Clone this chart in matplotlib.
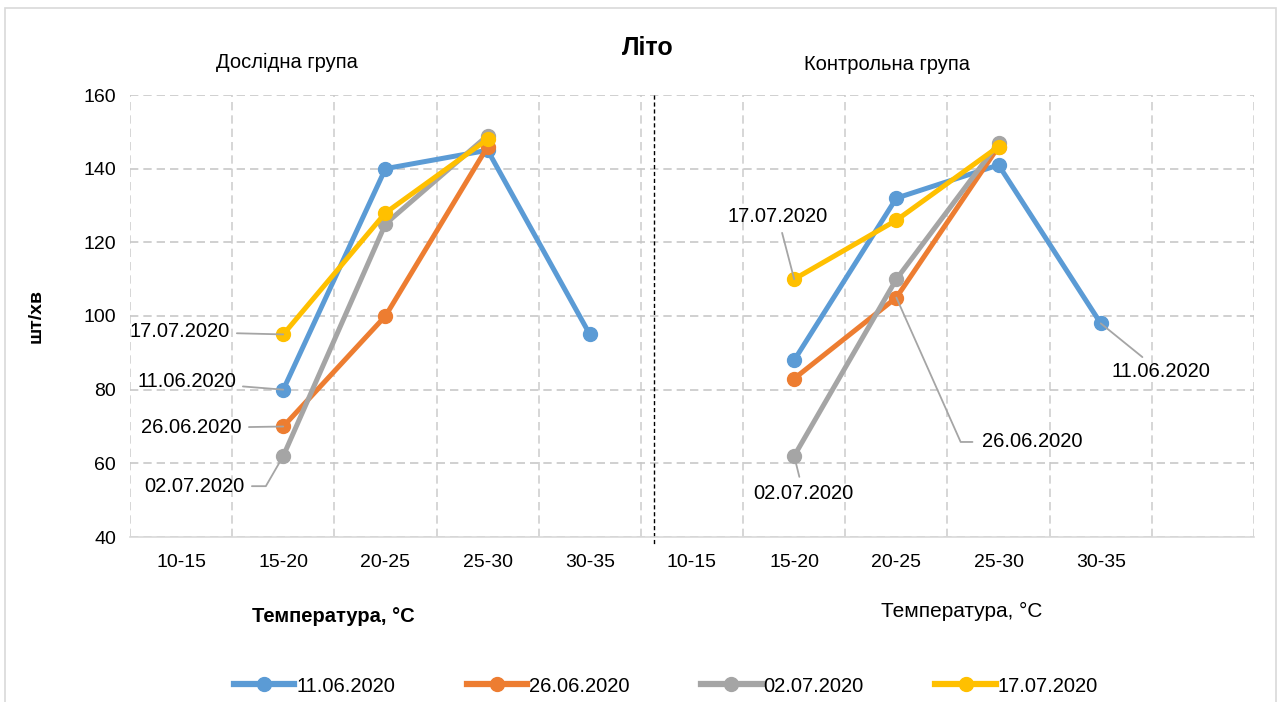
import numpy as np
import matplotlib
matplotlib.use("Agg")
import matplotlib.pyplot as plt
from matplotlib.lines import Line2D
from matplotlib.patches import Rectangle

plt.rcParams["font.family"] = ["Liberation Sans Narrow", "Liberation Sans", "DejaVu Sans"]

categories = ["10-15", "15-20", "20-25", "25-30", "30-35",
              "10-15", "15-20", "20-25", "25-30", "30-35", ""]
series_names = ["11.06.2020", "26.06.2020", "02.07.2020", "17.07.2020"]
colors = ["#5B9BD5", "#ED7D31", "#A5A5A5", "#FFC000"]

nan = np.nan
# Дослідна група (slots 0-4) + Контрольна група (slots 5-9)
s_1106 = [nan, 80, 140, 145, 95, nan, 88, 132, 141, 98, nan]
s_2606 = [nan, 70, 100, 146, nan, nan, 83, 105, 146, nan, nan]
s_0207 = [nan, 62, 125, 149, nan, nan, 62, 110, 147, nan, nan]
s_1707 = [nan, 95, 128, 148, nan, nan, 110, 126, 146, nan, nan]
series = [s_1106, s_2606, s_0207, s_1707]

fig = plt.figure(figsize=(12.82, 7.02), dpi=100)
ax = fig.add_axes([130 / 1282, 1 - 537 / 702, (1254 - 130) / 1282, (537 - 95) / 702])

x = np.arange(len(categories))
for vals, name, c in zip(series, series_names, colors):
    y = np.array(vals, dtype=float)
    # split left / right groups so the lines don't connect across
    for sl in (slice(0, 5), slice(5, 11)):
        ax.plot(x[sl], y[sl], color=c, lw=3.6, marker="o", ms=10,
                solid_capstyle="round", zorder=3)

ax.set_xlim(-0.5, 10.5)
ax.set_ylim(40, 160)
ax.set_yticks(np.arange(40, 161, 20))
ax.set_xticks(x)
ax.set_xticklabels(categories)
ax.set_xticks(np.arange(-0.5, 10.6, 1), minor=True)
ax.tick_params(axis="both", which="both", length=0, labelsize=14, pad=12)
ax.tick_params(axis="y", pad=10)
ax.grid(True, which="major", axis="y", color="#C8C8C8", ls=(0, (5, 3)), lw=1.2)
ax.grid(True, which="minor", axis="x", color="#D0D0D0", ls=(0, (5, 3)), lw=1.2)
for side in ["left", "right", "top"]:
    ax.spines[side].set_visible(False)
ax.spines["bottom"].set_color("#D9D9D9")
ax.spines["bottom"].set_linewidth(1.2)
ax.set_axisbelow(True)

# separator between groups
ax.plot([4.627, 4.627], [160, 38], color="black", lw=1, ls=(0, (3, 2)),
        clip_on=False, zorder=2)

ann_kw = dict(fontsize=14.5, color="black",
              arrowprops=dict(arrowstyle="-", color="#A5A5A5", lw=1.3,
                              shrinkA=3, shrinkB=0))

# left group labels
ax.annotate("17.07.2020", xy=(1, s_1707[1]), xytext=(0.478, 95.7),
            ha="right", va="center", **ann_kw)
ax.annotate("11.06.2020", xy=(1, s_1106[1]), xytext=(0.537, 82.1),
            ha="right", va="center", **ann_kw)
ax.annotate("26.06.2020", xy=(1, s_2606[1]), xytext=(0.596, 69.6),
            ha="right", va="center", **ann_kw)
ax.annotate("02.07.2020", xy=(1, s_0207[1]), xytext=(0.625, 53.8),
            ha="right", va="center", fontsize=14.5,
            arrowprops=dict(arrowstyle="-", color="#A5A5A5", lw=1.3,
                            shrinkA=3, shrinkB=0,
                            connectionstyle="angle,angleA=0,angleB=60,rad=0"))

# right group labels
ax.annotate("17.07.2020", xy=(6, s_1707[6]), xytext=(5.84, 127.0),
            ha="center", va="center", **ann_kw)
ax.annotate("11.06.2020", xy=(9, s_1106[9]), xytext=(9.588, 84.8),
            ha="center", va="center", **ann_kw)
ax.annotate("02.07.2020", xy=(6, s_0207[6]), xytext=(6.09, 51.9),
            ha="center", va="center", **ann_kw)
ax.annotate("26.06.2020", xy=(7, s_2606[7]), xytext=(7.84, 65.8),
            ha="left", va="center", fontsize=14.5,
            arrowprops=dict(arrowstyle="-", color="#A5A5A5", lw=1.3,
                            shrinkA=5, shrinkB=0,
                            connectionstyle="angle,angleA=0,angleB=114,rad=0"))

# titles and axis labels
fig.text(648 / 1282, 1 - 48 / 702, "Літо", fontsize=18, fontweight="bold",
         ha="center", va="center")
fig.text(287 / 1282, 1 - 62 / 702, "Дослідна група", fontsize=14.5,
         ha="center", va="center")
fig.text(887 / 1282, 1 - 64 / 702, "Контрольна група", fontsize=14.5,
         ha="center", va="center")
fig.text(36 / 1282, 1 - 316 / 702, "шт/хв", fontsize=14, fontweight="bold",
         rotation=90, ha="center", va="center")
fig.text(333 / 1282, 1 - 616 / 702, "Температура, °C", fontsize=14.5,
         fontweight="bold", ha="center", va="center")
fig.text(962 / 1282, 1 - 611 / 702, "Температура, °C", fontsize=15,
         ha="center", va="center")

# legend
handles = [Line2D([0], [0], color=c, lw=4.5, marker="o", ms=10) for c in colors]
fig.legend(handles, series_names, loc="center", ncol=4,
           bbox_to_anchor=(666 / 1282, 1 - 686 / 702), frameon=False,
           fontsize=14.5, handlelength=3.0, handletextpad=0.1,
           columnspacing=3.55)

# outer chart border
fig.add_artist(Rectangle((5 / 1282, -0.1), 1271 / 1282, 1.1 - 8 / 702,
                         transform=fig.transFigure, fill=False,
                         edgecolor="#D9D9D9", lw=1.2))

fig.savefig("out.png", dpi=100)
